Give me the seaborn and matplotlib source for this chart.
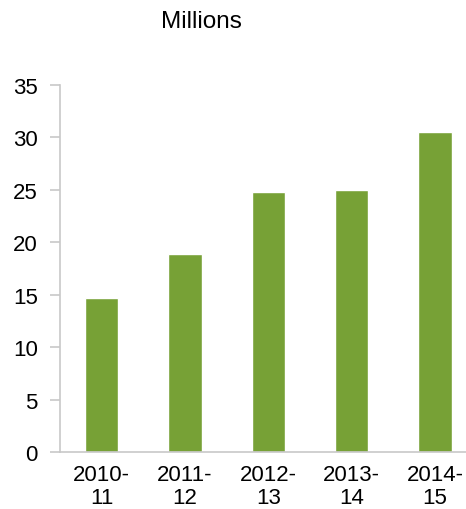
import pandas as pd
import matplotlib.pyplot as plt
import seaborn as sns

# Data
years = ["2010-\n11", "2011-\n12", "2012-\n13", "2013-\n14", "2014-\n15"]
values = [14.7, 18.9, 24.8, 25.0, 30.5]

df = pd.DataFrame({"Year": years, "Value": values})

sns.set_style("white")
plt.rcParams['font.family'] = ['Liberation Sans', 'DejaVu Sans']

fig = plt.figure(figsize=(4.66, 5.10), dpi=100)
ax = fig.add_axes([60 / 466, 57 / 510, 406 / 466, 367 / 510])

sns.barplot(data=df, x="Year", y="Value", color="#77A136", width=0.4,
            saturation=1, ax=ax)

ax.set_ylim(0, 35)
ax.set_yticks(range(0, 36, 5))
ax.set_xlim(-0.5, 4.37)
ax.set_xlabel("")
ax.set_ylabel("")

for side in ["top", "right"]:
    ax.spines[side].set_visible(False)
for side in ["left", "bottom"]:
    ax.spines[side].set_color("#C8C8C8")
    ax.spines[side].set_linewidth(1.2)

ax.tick_params(axis="y", which="both", left=True, length=7, width=1.2,
               color="#C8C8C8", labelsize=16, pad=9, labelcolor="black")
ax.tick_params(axis="x", length=0, labelsize=16, pad=9, labelcolor="black")
for lbl in ax.get_xticklabels():
    lbl.set_linespacing(1.08)

fig.text(201 / 466, 1 - 22 / 510, "Millions", ha="center", va="center",
         fontsize=17.5, color="black")

plt.savefig("out.png", dpi=100)
plt.close()
